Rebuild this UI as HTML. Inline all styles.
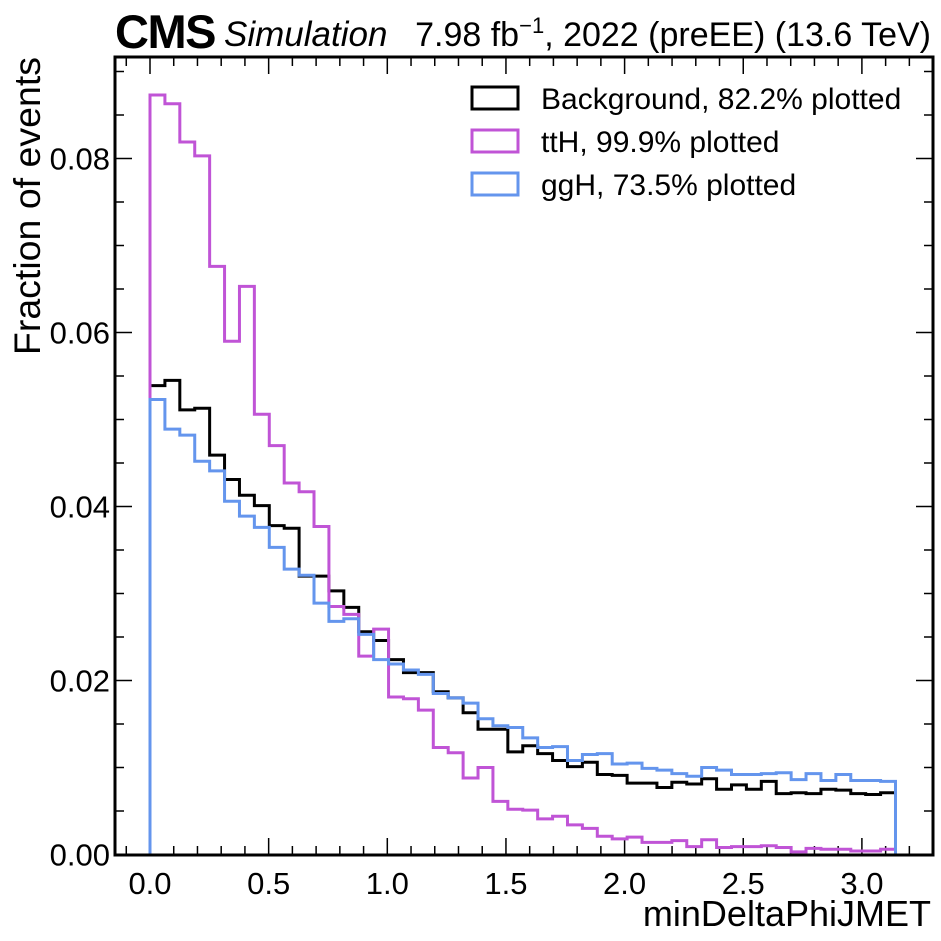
<!DOCTYPE html>
<html><head><meta charset="utf-8"><style>
body{margin:0;background:#fff;}
svg{display:block;font-family:"Liberation Sans",Arial,sans-serif;}
</style></head><body>
<svg id="chart" width="941" height="941" viewBox="0 0 941 941">
<text x="115" y="48" font-size="47" font-weight="bold" style="letter-spacing:-1.5px">CMS</text>
<text x="224" y="46" font-size="35" font-style="italic">Simulation</text>
<text x="931" y="46" font-size="34" text-anchor="end">7.98 fb<tspan dy="-13" font-size="22">−1</tspan><tspan dy="13">, 2022 (preEE) (13.6 TeV)</tspan></text>
<text transform="translate(40,57) rotate(-90)" font-size="37.5" text-anchor="end">Fraction of events</text>
<text x="931" y="926" font-size="36" text-anchor="end">minDeltaPhiJMET</text>
<g id="ticks"></g>
<g id="series"></g>
<rect x="115" y="57" width="818" height="798" fill="none" stroke="#000" stroke-width="3"/>
<g>
<g><rect x="472" y="87" width="46" height="22" fill="none" stroke="#000" stroke-width="3"/><text x="541" y="109" font-size="30">Background, 82.2% plotted</text></g>
<g><rect x="472" y="130" width="46" height="22" fill="none" stroke="#c054d6" stroke-width="3"/><text x="541" y="152" font-size="30">ttH, 99.9% plotted</text></g>
<g><rect x="472" y="173" width="46" height="22" fill="none" stroke="#6495ed" stroke-width="3"/><text x="541" y="195" font-size="30">ggH, 73.5% plotted</text></g>
</g>
</svg>
<script>
const nBins = 50;
const xMin = 0, xMax = Math.PI;
const background = [0.0539,0.0545,0.0511,0.0513,0.0459,0.0431,0.0413,0.0401,0.0378,0.0375,0.0320,0.0320,0.0303,0.0284,0.0256,0.0246,0.0224,0.0209,0.0209,0.0187,0.0180,0.0163,0.0144,0.0144,0.0118,0.0125,0.0116,0.0108,0.0101,0.0106,0.0092,0.0091,0.0082,0.0082,0.0077,0.0083,0.0081,0.0087,0.0075,0.0080,0.0075,0.0084,0.0070,0.0071,0.0070,0.0075,0.0074,0.0070,0.0069,0.0071];
const tth = [0.0873,0.0863,0.0819,0.0803,0.0676,0.0590,0.0653,0.0506,0.0470,0.0427,0.0417,0.0377,0.0285,0.0276,0.0228,0.0259,0.0181,0.0179,0.0166,0.0123,0.0117,0.0088,0.0100,0.0061,0.0052,0.0051,0.0041,0.0044,0.0034,0.0030,0.0021,0.0018,0.0020,0.0014,0.0014,0.0016,0.0009,0.0017,0.0008,0.0009,0.0009,0.0010,0.0008,0.0003,0.0007,0.0006,0.0006,0.0004,0.0004,0.0006];
const ggh = [0.0523,0.0489,0.0482,0.0452,0.0441,0.0406,0.0389,0.0376,0.0353,0.0328,0.0321,0.0289,0.0268,0.0271,0.0253,0.0224,0.0219,0.0212,0.0207,0.0185,0.0180,0.0174,0.0156,0.0148,0.0146,0.0134,0.0123,0.0124,0.0108,0.0115,0.0116,0.0104,0.0105,0.0099,0.0097,0.0093,0.0090,0.0100,0.0097,0.0092,0.0092,0.0093,0.0094,0.0086,0.0093,0.0085,0.0092,0.0085,0.0085,0.0084];
const xTicks = [0,0.5,1.0,1.5,2.0,2.5,3.0];
const xTickLabels = ["0.0","0.5","1.0","1.5","2.0","2.5","3.0"];
const yTicks = [0,0.02,0.04,0.06,0.08];
const yTickLabels = ["0.00","0.02","0.04","0.06","0.08"];

const X = v => 150 + v * 237.3;
const Y = v => 854.5 - v * 8700;
const NS = "http://www.w3.org/2000/svg";
const tg = document.getElementById('ticks');
function line(x1,y1,x2,y2,w){const l=document.createElementNS(NS,'line');l.setAttribute('x1',x1);l.setAttribute('y1',y1);l.setAttribute('x2',x2);l.setAttribute('y2',y2);l.setAttribute('stroke','#000');l.setAttribute('stroke-width',w);tg.appendChild(l);return l;}
for(let i=-1;i<=32;i++){const v=i*0.1;const x=X(v);if(x<116||x>932)continue;const maj=Math.abs(v*2-Math.round(v*2))<1e-6;const L=maj?17:9;
 const a=line(x,855,x,855-L,1.5);
 
 
 const b=line(x,57,x,57+L,1.5);
 
 }
for(let i=0;i<=18;i++){const v=i*0.005;const y=Y(v);if(y<58||y>854)continue;const maj=i%4===0;const L=maj?17:9;
 const a=line(115,y,115+L,y,1.5);
 
 
 const b=line(933,y,933-L,y,1.5);
 
 }
xTicks.forEach((v,i)=>{const t=document.createElementNS(NS,'text');t.setAttribute('x',X(v));t.setAttribute('y',894);t.setAttribute('font-size','31');t.setAttribute('text-anchor','middle');t.textContent=xTickLabels[i];
 
 
 tg.appendChild(t);});
yTicks.forEach((v,i)=>{const t=document.createElementNS(NS,'text');t.setAttribute('x',110);t.setAttribute('y',Y(v)+11);t.setAttribute('font-size','31');t.setAttribute('text-anchor','end');t.textContent=yTickLabels[i];
 
 
 tg.appendChild(t);});
const sg=document.getElementById('series');
const w=(xMax-xMin)/nBins;
function step(vals,color,name){let d='M'+X(xMin)+','+Y(0);vals.forEach((v,i)=>{d+=' L'+X(xMin+i*w)+','+Y(v)+' L'+X(xMin+(i+1)*w)+','+Y(v);});d+=' L'+X(xMax)+','+Y(0);
 const p=document.createElementNS(NS,'path');p.setAttribute('d',d);p.setAttribute('fill','none');p.setAttribute('stroke',color);p.setAttribute('stroke-width','3');
 
 
 sg.appendChild(p);}
step(background,'#000','background-histogram');
step(tth,'#c054d6','tth-histogram');
step(ggh,'#6495ed','ggh-histogram');
</script>
</body></html>
